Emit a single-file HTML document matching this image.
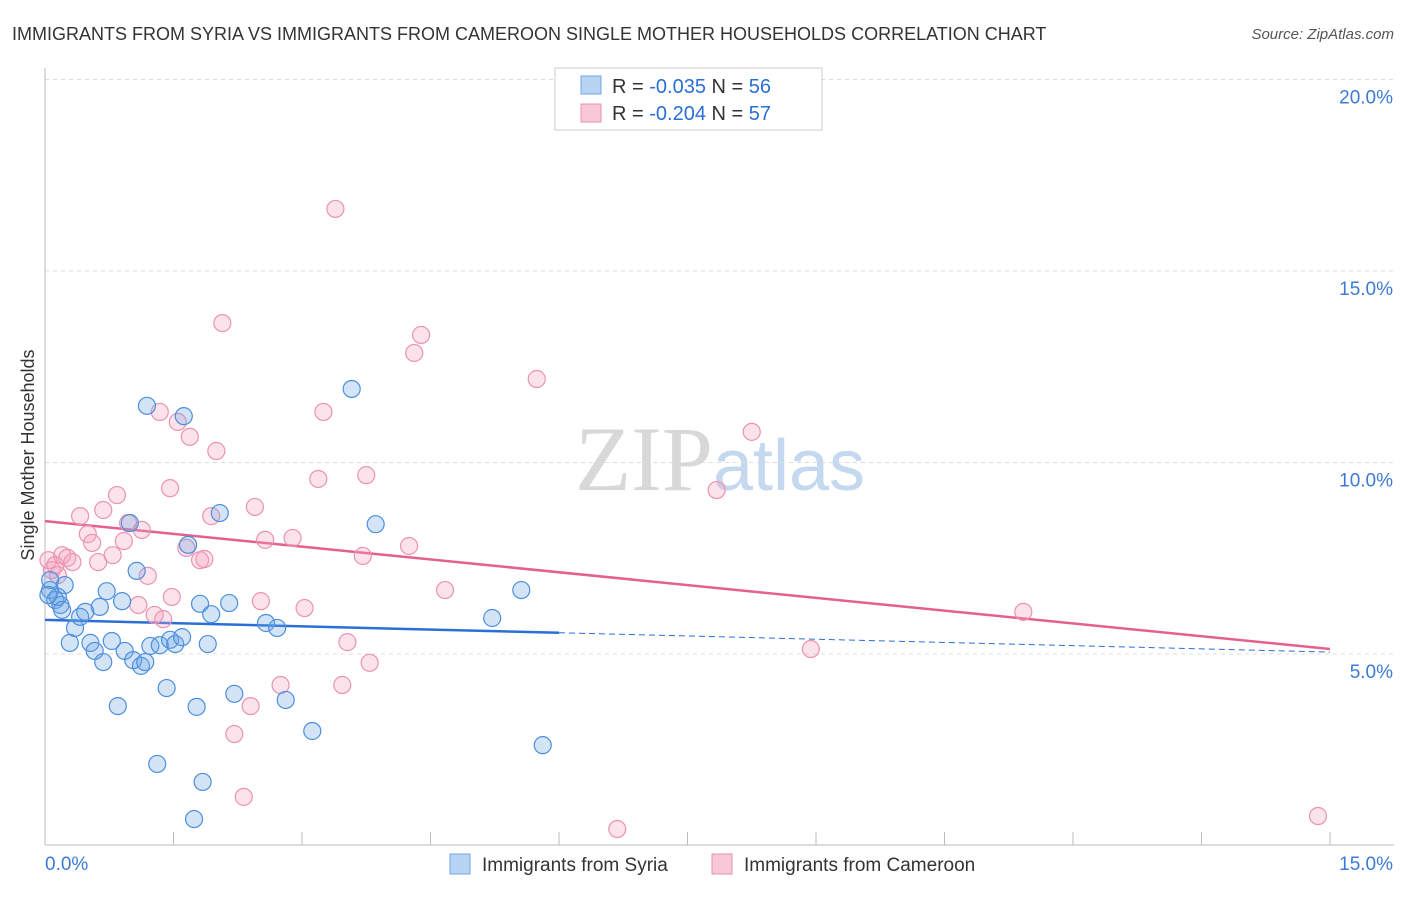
<!DOCTYPE html>
<html><head><meta charset="utf-8"><style>
body{margin:0;background:#fff;font-family:"Liberation Sans",sans-serif;}
svg text{font-family:"Liberation Sans",sans-serif;}
</style></head><body>
<svg id="chart" width="1406" height="892" xmlns="http://www.w3.org/2000/svg">
<text x="12" y="40" font-size="18" fill="#333">IMMIGRANTS FROM SYRIA VS IMMIGRANTS FROM CAMEROON SINGLE MOTHER HOUSEHOLDS CORRELATION CHART</text>
<text x="1394" y="39" font-size="15" fill="#555" font-style="italic" text-anchor="end">Source: ZipAtlas.com</text>
<text x="720" y="490" font-size="92" text-anchor="middle"><tspan fill="#d8d8d8" font-family="Liberation Serif,serif">ZIP</tspan><tspan fill="#c4d8ef" font-size="72">atlas</tspan></text>
<text transform="translate(34,455) rotate(-90)" font-size="18" fill="#333" text-anchor="middle">Single Mother Households</text>
<g id="grid"></g><g id="axes"></g><g id="lines"></g><g id="points"></g>
<g>
<rect x="555" y="68" width="267" height="62" fill="#fff" stroke="#ccc"/>
<rect x="581" y="76" width="20" height="18" fill="#b8d4f4" stroke="#6fa4e0"/>
<text x="612" y="93" font-size="20" fill="#333">R = <tspan fill="#2a6fd6">-0.035</tspan>   N = <tspan fill="#2a6fd6">56</tspan></text>
<rect x="581" y="104" width="20" height="18" fill="#f8c8d8" stroke="#e891ae"/>
<text x="612" y="120" font-size="20" fill="#333">R = <tspan fill="#2a6fd6">-0.204</tspan>   N = <tspan fill="#2a6fd6">57</tspan></text>
</g>
<g>
<rect x="450" y="854" width="20" height="20" fill="#b8d4f4" stroke="#6fa4e0"/>
<text x="482" y="871" font-size="19" fill="#333">Immigrants from Syria</text>
<rect x="712" y="854" width="20" height="20" fill="#f8c8d8" stroke="#e891ae"/>
<text x="744" y="871" font-size="19" fill="#333">Immigrants from Cameroon</text>
</g>
</svg>
<script>
const yTicks=[5,10,15,20];
const yTickLabels=["5.0%","10.0%","15.0%","20.0%"];
const xTickCount=10;
const xEndLabels=["0.0%","15.0%"];
const syriaX=[.06,.12,.18,.23,.06,.15,.20,.29,.35,.41,.47,.53,.58,.64,.68,.72,.78,.85,.90,.93,.99,1.03,1.07,1.12,1.17,1.19,1.23,1.31,1.34,1.42,1.46,1.52,1.60,1.62,1.67,1.77,1.81,1.84,1.90,1.94,2.04,2.15,2.21,2.58,2.71,2.81,3.12,3.58,3.86,5.22,5.56,5.81,1.74,.04];
const syriaY=[6.67,6.41,6.28,6.80,6.93,6.49,6.15,5.29,5.68,5.97,6.10,5.29,5.08,6.23,4.79,6.64,5.34,3.64,6.38,5.08,8.42,4.84,7.17,4.69,4.79,11.48,5.21,2.13,5.23,4.11,5.37,5.26,5.44,11.21,7.85,3.62,6.31,1.66,5.26,6.04,8.68,6.33,3.96,5.81,5.68,3.80,2.99,11.92,8.39,5.94,6.67,2.62,0.69,6.54];
const camX=[.04,.08,.12,.15,.20,.26,.32,.41,.50,.55,.62,.68,.79,.84,.92,.97,1.09,1.13,1.20,1.28,1.34,1.38,1.46,1.48,1.55,1.65,1.69,1.81,1.86,1.94,2.00,2.07,2.21,2.32,2.40,2.45,2.52,2.57,2.75,2.89,3.03,3.19,3.25,3.39,3.47,3.53,3.71,3.75,3.79,4.25,4.31,4.39,4.67,5.74,6.68,7.84,8.25,8.94,11.42,14.86];
const camY=[7.45,7.19,7.32,7.06,7.58,7.51,7.40,8.60,8.13,7.90,7.40,8.76,7.58,9.15,7.95,8.42,6.28,8.24,7.04,6.02,11.32,5.91,9.33,6.49,11.06,7.77,10.67,7.45,7.48,8.60,10.30,13.64,2.91,1.27,3.64,8.84,6.38,7.98,4.19,8.03,6.20,9.57,11.32,16.62,4.19,5.31,7.56,9.67,4.77,7.82,12.86,13.33,6.67,12.18,0.43,9.28,10.80,5.13,6.10,0.77];
const syriaTrend=[5.89,5.05];
const syriaSolidEnd=6.0;
const camTrend=[8.47,5.13];

const NS="http://www.w3.org/2000/svg";
const X=v=>45+v/15*1285;
const Y=v=>654-(v-5)*38.3;
function mk(tag,attrs,parent){const e=document.createElementNS(NS,tag);for(const k in attrs)e.setAttribute(k,attrs[k]);document.getElementById(parent).appendChild(e);return e;}
yTicks.forEach((t,i)=>{
 const l=mk('line',{x1:45,x2:1394,y1:Y(t),y2:Y(t),stroke:'#ddd','stroke-dasharray':'4,4'},'grid');
 
 
 const tx=mk('text',{x:1393,y:Y(t)+24,'font-size':19,fill:'#3b7bd6','text-anchor':'end'},'grid');
 tx.textContent=yTickLabels[i];
 
 
});
const ax=mk('line',{x1:45,x2:45,y1:68,y2:845,stroke:'#bbb'},'axes');


const bx=mk('line',{x1:45,x2:1394,y1:845,y2:845,stroke:'#bbb'},'axes');


for(let i=1;i<=xTickCount;i++){
 const t=mk('line',{x1:X(i*1.5),x2:X(i*1.5),y1:832,y2:845,stroke:'#bbb'},'axes');
 
 
}
const xl0=mk('text',{x:45,y:870,'font-size':19,fill:'#3b7bd6'},'axes');xl0.textContent=xEndLabels[0];


const xl1=mk('text',{x:1393,y:870,'font-size':19,fill:'#3b7bd6','text-anchor':'end'},'axes');xl1.textContent=xEndLabels[1];


function pts(xs,ys,fill,stroke,name){
 xs.forEach((x,i)=>{const c=mk('circle',{cx:X(x),cy:Y(ys[i]),r:8.5,fill:fill,stroke:stroke,'stroke-width':1.2},'points');
 
 });
}
pts(camX,camY,'rgba(244,160,190,0.3)','#ea93b2','point-cameroon');
pts(syriaX,syriaY,'rgba(110,165,230,0.3)','#4d8fde','point-syria');
const sy=v=>syriaTrend[0]+(syriaTrend[1]-syriaTrend[0])*v/15;
const s1=mk('line',{x1:X(0),y1:Y(sy(0)),x2:X(syriaSolidEnd),y2:Y(sy(syriaSolidEnd)),stroke:'#2a6fd6','stroke-width':2.5},'lines');


const s2=mk('line',{x1:X(syriaSolidEnd),y1:Y(sy(syriaSolidEnd)),x2:X(15),y2:Y(sy(15)),stroke:'#2a6fd6','stroke-width':1,'stroke-dasharray':'6,4'},'lines');


const c1=mk('line',{x1:X(0),y1:Y(camTrend[0]),x2:X(15),y2:Y(camTrend[1]),stroke:'#e4618c','stroke-width':2.5},'lines');


</script>
</body></html>
